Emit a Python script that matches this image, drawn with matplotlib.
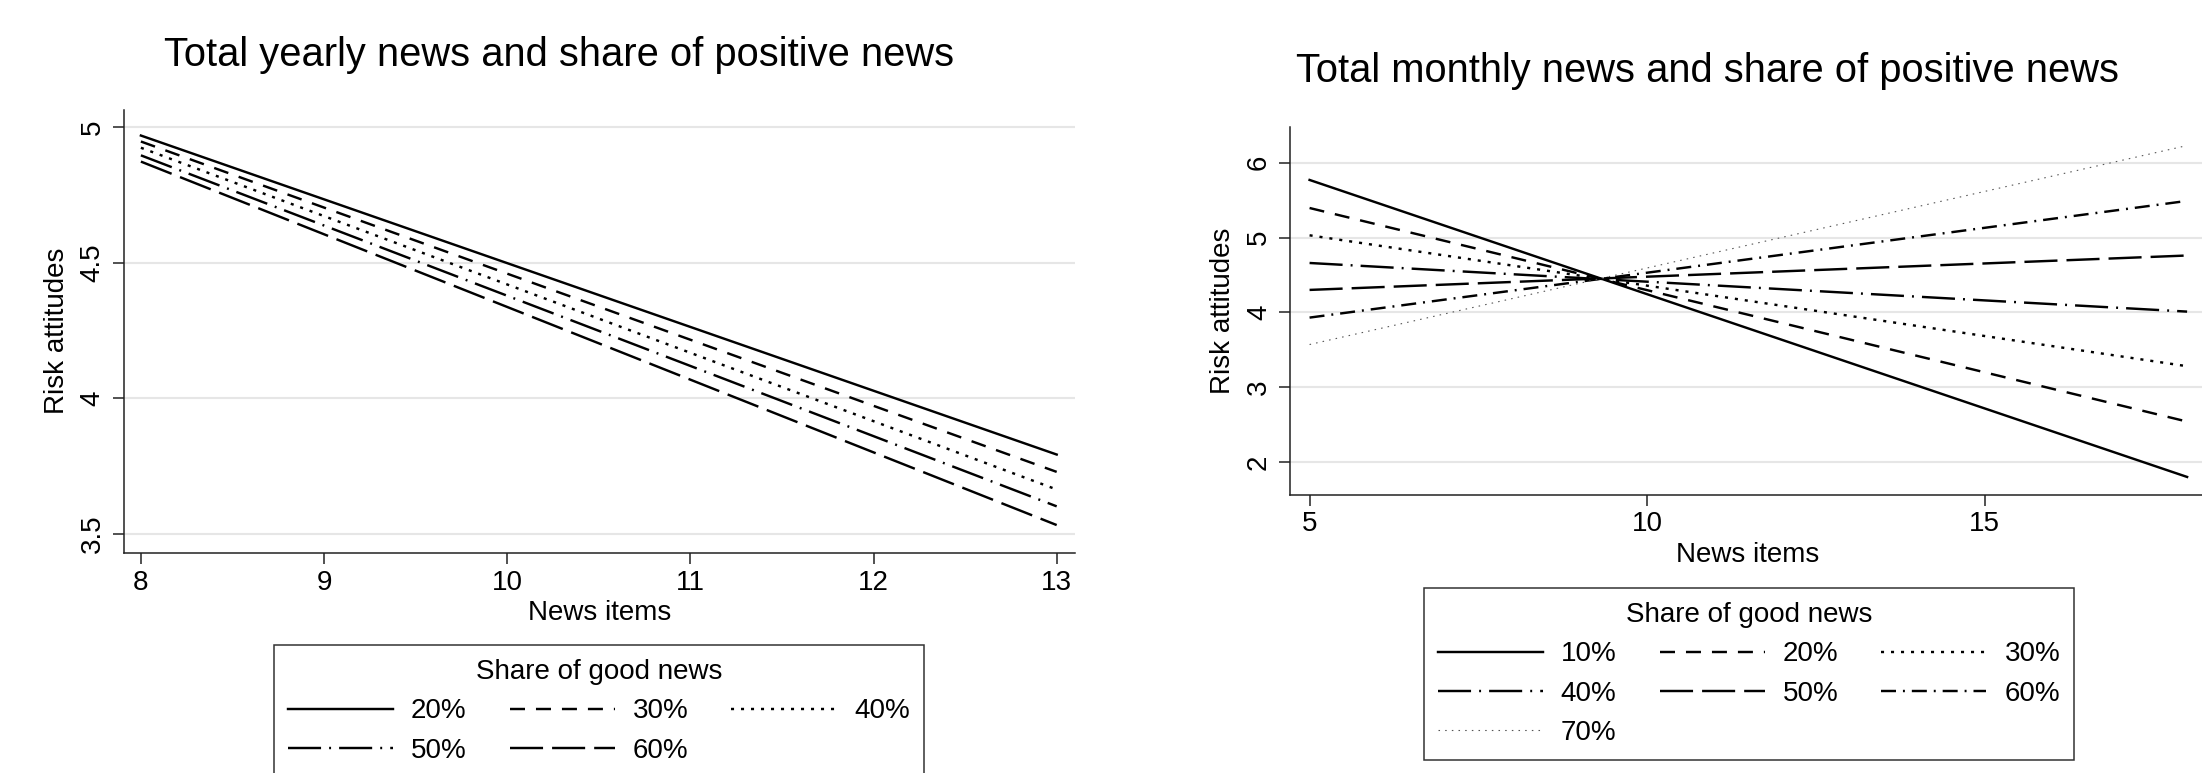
import matplotlib
matplotlib.use("Agg")
import matplotlib.pyplot as plt

# --- data ---
x_yearly = [8, 13]
shares_yearly = ["20%", "30%", "40%", "50%", "60%"]
risk_yearly = [
    [4.969, 3.793],
    [4.947, 3.729],
    [4.924, 3.664],
    [4.896, 3.602],
    [4.873, 3.533],
]

x_monthly = [5, 18]
shares_monthly = ["10%", "20%", "30%", "40%", "50%", "60%", "70%"]
risk_monthly = [
    [5.77, 1.80],
    [5.395, 2.54],
    [5.03, 3.28],
    [4.66, 4.01],
    [4.30, 4.76],
    [3.93, 5.49],
    [3.57, 6.23],
]

yearly_xticks = [8, 9, 10, 11, 12, 13]
yearly_yticks = [3.5, 4, 4.5, 5]
monthly_xticks = [5, 10, 15]
monthly_yticks = [2, 3, 4, 5, 6]

# stata-like line patterns (points, not scaled by width)
plt.rcParams['lines.scale_dashes'] = False
plt.rcParams['font.family'] = ['Liberation Sans', 'DejaVu Sans']

LW = 1.75
solid = dict(color='black', lw=LW, ls='-')
dash = dict(color='black', lw=LW, ls=(0, (10.8, 7.9)))
dot = dict(color='black', lw=LW, ls=(0, (2.2, 5.0)))
longdash_dot = dict(color='black', lw=LW, ls=(0, (23.8, 5.8, 1.4, 5.8)))
longdash = dict(color='black', lw=LW, ls=(0, (23.8, 6.5)))
dash_dot = dict(color='black', lw=LW, ls=(0, (10.8, 5.0, 1.4, 5.0)))
thin_dot = dict(color='#555555', lw=0.8, ls=(0, (1.1, 3.7)))

styles_yearly = [solid, dash, dot, longdash_dot, longdash]
styles_monthly = [solid, dash, dot, longdash_dot, longdash, dash_dot, thin_dot]

W, H = 2202, 773
fig = plt.figure(figsize=(W / 100, H / 100), dpi=100)
fig.patch.set_facecolor('white')

FS = 20


def setup_axes(ax, xticks, yticks):
    for s in ['top', 'right']:
        ax.spines[s].set_visible(False)
    for s in ['left', 'bottom']:
        ax.spines[s].set_linewidth(1.1)
        ax.spines[s].set_color('#222222')
    ax.set_xticks(xticks)
    ax.set_yticks(yticks)
    ax.set_yticklabels([f"{t:g}" for t in yticks])
    ax.tick_params(axis='both', direction='out', length=7.9, width=1.1,
                   color='#222222', labelsize=FS)
    ax.tick_params(axis='x', pad=4)
    ax.tick_params(axis='y', pad=5, labelrotation=90)
    for lab in ax.get_yticklabels():
        lab.set_va('center')
    ax.grid(axis='y', color='#e6e6e6', lw=1.5)
    ax.set_axisbelow(True)


def make_legend(ax, handles_labels, order, cx, top):
    # reorder so rows fill left to right, like the original
    hs = [handles_labels[0][i] for i in order]
    ls = [handles_labels[1][i] for i in order]
    leg = fig.legend(hs, ls, loc='upper center',
                     bbox_to_anchor=(cx / W, 1 - top / H), ncol=3,
                     title="Share of good news", fontsize=FS, title_fontsize=FS,
                     frameon=True, fancybox=False, edgecolor='black',
                     handlelength=3.78, handletextpad=0.65, columnspacing=1.55,
                     labelspacing=0.48, borderpad=0.5, borderaxespad=0)
    leg.get_frame().set_linewidth(1.1)
    return leg


# --- left: yearly ---
ax1 = fig.add_axes([123.5 / W, 1 - 553 / H, (1075 - 123.5) / W, (553 - 109.5) / H])
for vals, lab, st in zip(risk_yearly, shares_yearly, styles_yearly):
    ax1.plot(x_yearly, vals, label=lab, **st)
ax1.set_xlim(7.905, 13.1)
ax1.set_ylim(3.43, 5.065)
setup_axes(ax1, yearly_xticks, yearly_yticks)
ax1.set_xlabel("News items", fontsize=FS)
ax1.set_ylabel("Risk attitudes", fontsize=FS)
ax1.xaxis.set_label_coords(0.5, -0.1353)
ax1.xaxis.label.set_va('center')
ax1.yaxis.set_label_coords(-0.0699, 0.5)
ax1.yaxis.label.set_va('center')
fig.text(559 / W, 1 - 55 / H, "Total yearly news and share of positive news",
         fontsize=28.7, ha='center', va='center')
make_legend(ax1, ax1.get_legend_handles_labels(), [0, 3, 1, 4, 2], 599, 645)

# --- right: monthly ---
ax2 = fig.add_axes([1290 / W, 1 - 494.6 / H, (2206 - 1290) / W, (494.6 - 127.2) / H])
for vals, lab, st in zip(risk_monthly, shares_monthly, styles_monthly):
    ax2.plot(x_monthly, vals, label=lab, **st)
ax2.set_xlim(4.71, 18.28)
ax2.set_ylim(1.564, 6.475)
setup_axes(ax2, monthly_xticks, monthly_yticks)
ax2.set_xlabel("News items", fontsize=FS)
ax2.set_ylabel("Risk attitudes", fontsize=FS)
ax2.xaxis.set_label_coords(0.5, -0.1644)
ax2.xaxis.label.set_va('center')
ax2.yaxis.set_label_coords(-0.0731, 0.5)
ax2.yaxis.label.set_va('center')
fig.text(1707 / W, 1 - 70.5 / H, "Total monthly news and share of positive news",
         fontsize=28.7, ha='center', va='center')
make_legend(ax2, ax2.get_legend_handles_labels(), [0, 3, 6, 1, 4, 2, 5], 1749, 588)

fig.savefig("out.png", dpi=100, facecolor='white')
